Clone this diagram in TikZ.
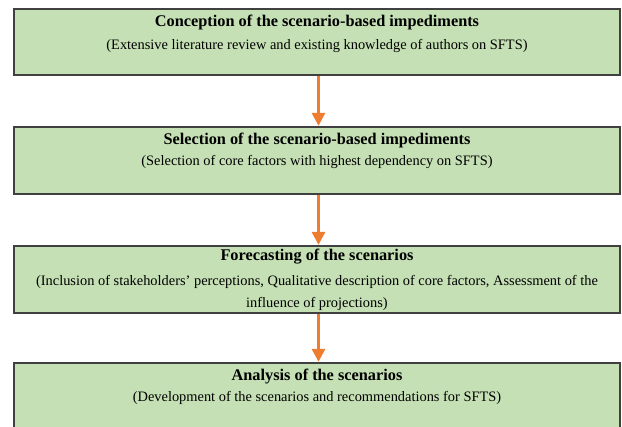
\documentclass[tikz,border=0pt]{standalone}
\usepackage{fontspec}
\setmainfont{Liberation Serif}
\usetikzlibrary{arrows.meta}
\definecolor{boxfill}{HTML}{C5E0B4}
\definecolor{boxline}{HTML}{404040}
\definecolor{arrorange}{HTML}{ED7D31}
\tikzset{
  stagebox/.style={draw=boxline, line width=1.3pt, fill=boxfill, rectangle, minimum width=606pt, minimum height=67pt, inner sep=0pt},
  titletext/.style={font=\fontsize{16.3}{18}\selectfont\bfseries, inner sep=0pt},
  subtext/.style={font=\fontsize{14.4}{22}\selectfont, align=center, inner sep=0pt},
  flowarrow/.style={draw=arrorange, line width=3pt, -{Triangle[length=13pt,width=13pt]}, shorten >=0.5pt}
}
\begin{document}
\begin{tikzpicture}[x=1pt,y=-1pt]
\useasboundingbox (0,0) rectangle (622,427);
\clip (0,0) rectangle (622,427);
\node[stagebox, minimum height=66pt] (b1) at (317,42) {};
\node[stagebox] (b2) at (317,160.5) {};
\node[stagebox] (b3) at (317,279.5) {};
\node[stagebox] (b4) at (317,396.5) {};
\node[titletext] (t1) at (317,23) {Conception of the scenario-based impediments};
\node[subtext] (s1) at (317,46) {(Extensive literature review and existing knowledge of authors on SFTS)};
\node[titletext] (t2) at (317,141) {Selection of the scenario-based impediments};
\node[subtext] (s2) at (317,162) {(Selection of core factors with highest dependency on SFTS)};
\node[titletext] (t3) at (317,257) {Forecasting of the scenarios};
\node[subtext, anchor=north] (s3) at (317,275) {(Inclusion of stakeholders' perceptions, Qualitative description of core factors, Assessment of the\\influence of projections)};
\node[titletext] (t4) at (317,377) {Analysis of the scenarios};
\node[subtext] (s4) at (317,398) {(Development of the scenarios and recommendations for SFTS)};
\draw[flowarrow] ([xshift=1.5pt]b1.south) -- ([xshift=1.5pt]b2.north);
\draw[flowarrow] ([xshift=1.5pt]b2.south) -- ([xshift=1.5pt]b3.north);
\draw[flowarrow] ([xshift=1.5pt]b3.south) -- ([xshift=1.5pt]b4.north);
\end{tikzpicture}
\end{document}
